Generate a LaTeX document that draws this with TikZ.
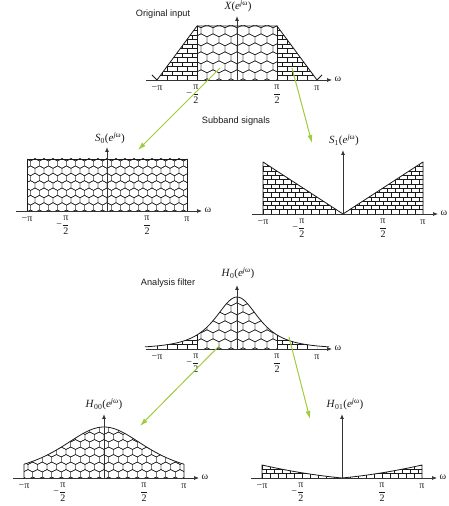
\documentclass[tikz,border=0pt]{standalone}
\usepackage{amsmath}
\usepackage{fontspec}
\setmainfont{Liberation Serif}
\newfontfamily\capfont{Liberation Sans}
\usetikzlibrary{arrows.meta,positioning}
\definecolor{cInk}{HTML}{1A1A1A}
\definecolor{cAxis}{HTML}{333333}
\definecolor{cGreen}{HTML}{9FCC3B}
\tikzset{
  outline/.style={draw=cInk,line width=0.8pt,line join=round},
  hexline/.style={draw=cInk,line width=0.45pt},
  brickline/.style={draw=cInk,line width=0.45pt},
  axis/.style={-{Latex[length=5pt,width=4pt]},draw=cAxis,line width=0.7pt},
  vaxis/.style={-{Latex[length=5pt,width=4pt]},draw=cAxis,line width=1pt},
  tick/.style={font=\fontsize{10}{12}\selectfont,text=cInk,inner sep=1pt},
  flab/.style={font=\fontsize{11}{13}\selectfont,text=cInk,inner sep=1pt},
  captxt/.style={font=\capfont\fontsize{9.2}{11}\selectfont,text=cInk,inner sep=1pt},
  garr/.style={-{Latex[length=8pt,width=5pt]},draw=cGreen,line width=1pt},
}
% honeycomb fill, #1 hex width, #2 hex height
\newcommand{\honeycomb}[2]{%
  \foreach \c in {-12,...,12}{%
    \foreach \r in {-1,...,10}{%
      \pgfmathsetmacro{\hx}{(\c+0.5*mod(abs(\r),2))*#1}%
      \pgfmathsetmacro{\hy}{(\r*0.75+0.35)*#2}%
      \draw[hexline] (\hx,\hy) +(0,-#2/2) -- +(#1/2,-#2/4) -- +(#1/2,#2/4)
        -- +(0,#2/2) -- +(-#1/2,#2/4) -- +(-#1/2,-#2/4) -- cycle;
    }}}
% brick fill, #1 brick length, #2 row height
\newcommand{\bricks}[2]{%
  \foreach \r in {0,...,14}{%
    \draw[brickline] (-100,\r*#2) -- (100,\r*#2);
    \foreach \c in {-11,...,11}{%
      \pgfmathsetmacro{\bx}{(\c+0.5*mod(\r,2))*#1}%
      \draw[brickline] (\bx,\r*#2) -- ++(0,#2);
    }}}
% axes and tick labels of one panel
\newcommand{\freqaxis}[1]{%
  \draw[axis] (-91,0) -- (95,0);
  \draw[vaxis] (0,0) -- (0,64);
  \node[tick] (#1mpi) at (-80,-8) {−π};
  \node[tick] (#1mhalf) at (-44,-14.5) {−$\dfrac{\text{π}}{\text{2}}$};
  \node[tick] (#1phalf) at (40,-14.5) {$\dfrac{\text{π}}{\text{2}}$};
  \node[tick] (#1pi) at (80,-8) {π};
  \node[tick] (#1w) at (101,1) {ω};
}

\begin{document}
\begin{tikzpicture}[x=1pt,y=1pt,
    declare function={hz(\t)=52/(1+(\t/33.9)^2)^1.5;
                      hzz(\t)=51/(1+(\t/67.8)^2)^1.5;
                      hzo(\t)=13*(0.6*abs(\t)/80+0.4*(\t/80)^2);}]
  \useasboundingbox (0,0) rectangle (449,506);

  % original input
  \begin{scope}[shift={(237,426)}]
    \begin{scope}
      \clip (-40,0) rectangle (40,54);
      \honeycomb{12}{12}
    \end{scope}
    \begin{scope}
      \clip (-80,0) -- (-40,54) -- (-40,0) -- cycle;
      \bricks{10}{4.5}
    \end{scope}
    \begin{scope}
      \clip (80,0) -- (40,54) -- (40,0) -- cycle;
      \bricks{10}{4.5}
    \end{scope}
    \draw[outline] (-85,5) -- (-80,0) -- (-40,54) -- (40,54) -- (80,0) -- (85,5);
    \draw[outline] (-40,0) -- (-40,54) (40,0) -- (40,54);
    \freqaxis{x}
    \node[flab] (xlab) at (1,74) {\textit{X}(\textit{e}\textsuperscript{\textit{j}ω})};
    \coordinate (xlow) at (-17,12);
    \coordinate (xhigh) at (55,12);
  \end{scope}
  \node[captxt] (orig) at (163,492) {Original input};

  % subband 0
  \begin{scope}[shift={(107,295)}]
    \begin{scope}
      \clip (-80,0) rectangle (80,52);
      \honeycomb{9}{9.8}
    \end{scope}
    \draw[outline] (-80,0) rectangle (80,52);
    \freqaxis{s}
    \node[flab] (slab) at (3,73) {\textit{S}\textsubscript{0}(\textit{e}\textsuperscript{\textit{j}ω})};
    \coordinate (stip) at (31,61);
  \end{scope}

  % subband 1
  \begin{scope}[shift={(343,292)}]
    \begin{scope}
      \clip (-80,0) -- (-80,52) -- (0,0) -- (80,52) -- (80,0) -- cycle;
      \bricks{8}{4.3}
    \end{scope}
    \draw[outline] (-80,0) -- (-80,52) -- (0,0) -- (80,52) -- (80,0);
    \freqaxis{t}
    \node[flab] (tlab) at (1,74) {\textit{S}\textsubscript{1}(\textit{e}\textsuperscript{\textit{j}ω})};
    \coordinate (ttip) at (-31,71);
  \end{scope}
  \node[captxt] (sub) at (236,385) {Subband signals};

  % analysis filter
  \begin{scope}[shift={(237,157)}]
    \begin{scope}
      \clip (-40,0) -- plot[domain=-40:40,samples=41] (\x,{hz(\x)}) -- (40,0) -- cycle;
      \honeycomb{12}{12}
    \end{scope}
    \begin{scope}
      \clip (-80,0) -- plot[domain=-80:-40,samples=21] (\x,{hz(\x)}) -- (-40,0) -- cycle;
      \bricks{10}{4.5}
    \end{scope}
    \begin{scope}
      \clip (40,0) -- plot[domain=40:80,samples=21] (\x,{hz(\x)}) -- (80,0) -- cycle;
      \bricks{10}{4.5}
    \end{scope}
    \draw[outline] plot[domain=-92:92,samples=93] (\x,{hz(\x)});
    \draw[outline] (-40,0) -- (-40,{hz(40)}) (40,0) -- (40,{hz(40)});
    \freqaxis{h}
    \node[flab] (hlab) at (1,76) {\textit{H}\textsubscript{0}(\textit{e}\textsuperscript{\textit{j}ω})};
    \coordinate (hlow) at (-17,4);
    \coordinate (hhigh) at (52,12);
  \end{scope}
  \node[captxt] (filt) at (168,223) {Analysis filter};

  % filter 00
  \begin{scope}[shift={(104,28)}]
    \begin{scope}
      \clip (-80,0) -- plot[domain=-80:80,samples=81] (\x,{hzz(\x)}) -- (80,0) -- cycle;
      \honeycomb{9.5}{10}
    \end{scope}
    \draw[outline] (-80,0) -- plot[domain=-80:80,samples=81] (\x,{hzz(\x)}) -- (80,0);
    \freqaxis{a}
    \node[flab] (alab) at (0,74) {\textit{H}\textsubscript{00}(\textit{e}\textsuperscript{\textit{j}ω})};
    \coordinate (atip) at (36,52);
  \end{scope}

  % filter 01
  \begin{scope}[shift={(342,28)}]
    \begin{scope}
      \clip (-80,0) -- plot[domain=-80:80,samples=81] (\x,{hzo(\x)}) -- (80,0) -- cycle;
      \bricks{8}{4.3}
    \end{scope}
    \draw[outline] (-80,0) -- plot[domain=-80:80,samples=81] (\x,{hzo(\x)}) -- (80,0);
    \freqaxis{b}
    \node[flab] (blab) at (3,74) {\textit{H}\textsubscript{01}(\textit{e}\textsuperscript{\textit{j}ω})};
    \coordinate (btip) at (-32,59);
  \end{scope}

  \draw[garr] (xlow) -- (stip);
  \draw[garr] (xhigh) -- (ttip);
  \draw[garr] (hlow) -- (atip);
  \draw[garr] (hhigh) -- (btip);
\end{tikzpicture}
\end{document}
